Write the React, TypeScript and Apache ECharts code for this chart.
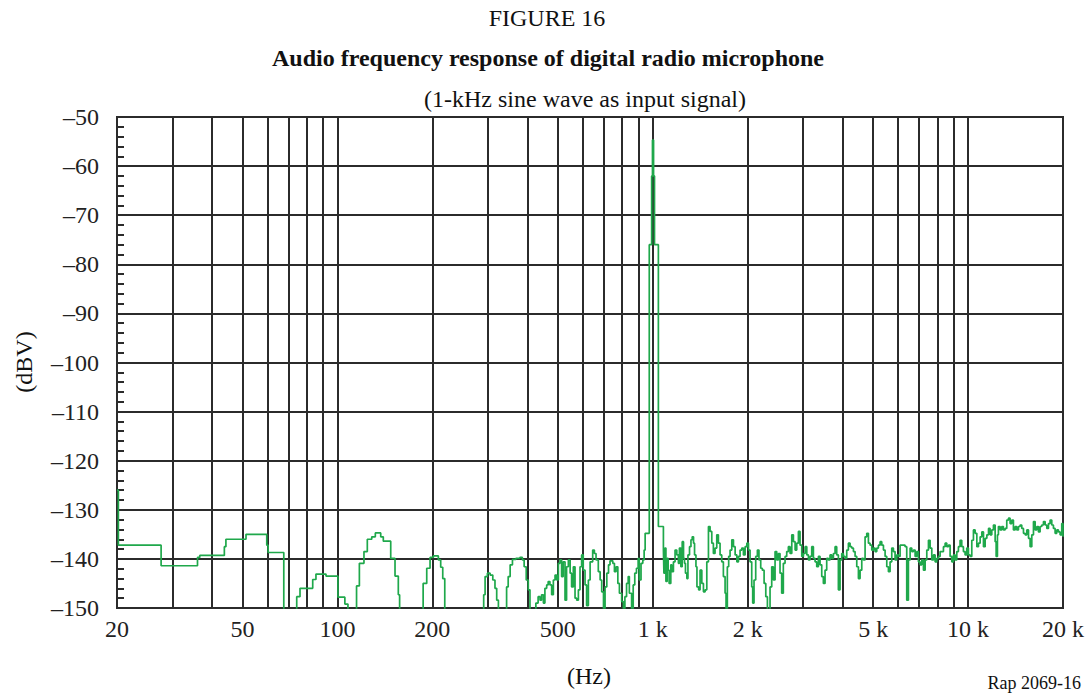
import React, { useEffect, useRef } from "react";
import * as echarts from "echarts";

// Vertical grid lines (Hz) and labelled frequencies
const gridHz = [30, 40, 60, 70, 80, 90, 300, 400, 600, 700, 800, 900, 3000, 4000, 6000, 7000, 8000, 9000];
const labelHz = [20, 50, 100, 200, 500, 1000, 2000, 5000, 10000, 20000];
const labelText = ["20", "50", "100", "200", "500", "1 k", "2 k", "5 k", "10 k", "20 k"];

// Spectrum, band A: 20 Hz – 410 Hz
const bandAHz = [20, 20.2, 27.6, 36.0, 36.6, 43.8, 44.3, 51.3, 59.7, 60.3, 67.6,
  74.3, 76.1, 83.5, 85.5, 92, 100.4, 105.6, 108,
  115, 117.4, 121.4, 124.4, 128.5, 131.9, 137.2, 139.8, 147.6, 152.3, 156, 157.5,
  187, 192, 196.7, 201.5, 209, 212.6, 215.8, 219,
  291, 294, 299, 305, 311, 316, 320, 324,
  344, 348, 353, 359, 368, 379, 386, 391, 397, 403, 408];
const bandADbv = [-126, -137.2, -141.4, -139.7, -139.3, -137.5, -136.0, -135.0, -137.2, -138.7, -156,
  -147.7, -146.0, -144.2, -143.1, -143.5, -147.8, -149.2, -156,
  -145.5, -140.9, -138.5, -136.0, -135.5, -134.7, -135.5, -136.4, -139.9, -143.5, -147.3, -156,
  -145.0, -141.9, -139.7, -139.4, -140.2, -141.7, -144.0, -156,
  -147.3, -143.6, -142.9, -143.3, -144.3, -146.0, -148.4, -156,
  -145.7, -143.6, -141.2, -140.1, -139.9, -139.7, -140.2, -141.6, -144.3, -146.3, -156];

// band B: 420 Hz – 950 Hz
const bandBHz = [426, 433, 439, 444, 450, 455, 461, 466, 472, 478, 484, 490, 496, 502, 508, 514, 520, 527, 533, 540,
  547, 553, 560, 567, 574, 581, 588, 595, 602, 610, 617, 625, 633, 645, 653, 661, 672, 681, 689, 698,
  706, 715, 724, 732, 747, 756, 765, 775, 784, 797, 807, 816, 826, 836, 843, 857, 867, 877, 888, 899,
  906, 918, 930, 939, 946];
const bandBDbv = [-149.0, -147.7, -148.4, -147.3, -149.0, -146.0, -145.3, -144.6, -145.3, -147.3,
  -144.3, -143.3, -144.3, -140.9, -140.2, -143.6, -140.6, -148.4, -141.6, -140.2,
  -142.9, -145.7, -141.6, -148.0, -148.4, -146.3, -141.6, -139.2, -142.3, -145.3,
  -149.5, -144.3, -140.6, -138.2, -138.9, -140.2, -142.6, -144.3, -146.7, -150.5,
  -145.7, -142.9, -141.2, -140.4, -140.9, -142.6, -141.6, -145.0, -147.0, -148.7,
  -151, -147.7, -145.0, -143.6, -147.0, -150.5, -145.3, -142.9, -141.9, -139.9,
  -144.3, -140.9, -140.2, -138.2, -134.8];

// 1 kHz tone
const peakHz = [975, 992, 998, 1006, 1013, 1042];
const peakDbv = [-76, -62, -54.7, -62, -76, -133.4];

// band C: 1.08 kHz – 5.2 kHz
const bandCHz = [1081, 1085, 1093, 1101, 1111, 1119, 1127, 1141, 1149, 1163, 1177, 1192, 1206, 1215, 1228,
  1240, 1252, 1261, 1270, 1283, 1293, 1308, 1322, 1334, 1347, 1357, 1371, 1381, 1398, 1413,
  1431, 1448, 1466, 1484, 1502, 1520, 1539, 1557, 1576, 1596, 1615, 1635, 1655, 1675, 1696,
  1708, 1724, 1741, 1759, 1781, 1803, 1825, 1848, 1870, 1892, 1916, 1939, 1963, 1988, 2012,
  2035, 2060, 2075, 2095, 2121, 2147, 2172, 2200, 2226, 2255, 2283, 2310,
  2324, 2355, 2384, 2413, 2443, 2473, 2502, 2533, 2564, 2595, 2628, 2660, 2692, 2726, 2760,
  2793, 2828, 2862, 2897, 2932, 2969, 3005, 3042, 3080, 3117, 3154, 3193, 3232, 3272, 3312,
  3352, 3393, 3435, 3476, 3519, 3562, 3605, 3650, 3695, 3740, 3786, 3832, 3879, 3927, 3975,
  4023, 4073, 4123, 4173, 4225, 4277, 4329, 4382, 4436, 4490, 4545, 4601, 4657, 4714, 4772,
  4830, 4889, 4949, 5010, 5071, 5134, 5196];
const bandCDbv = [-138.2, -142.9, -137.8, -144.6, -139.9, -142.3, -145.0, -141.2, -142.6, -140.6,
  -138.2, -139.2, -140.9, -137.8, -141.6, -136.5, -139.9, -140.9, -142.9, -144.0,
  -139.2, -137.5, -136.1, -135.5, -136.8, -139.2, -141.6, -145.7, -146.3, -142.3,
  -145.0, -146.7, -146.3, -140.6, -133.4, -134.4, -136.8, -138.9, -137.8, -135.1,
  -136.8, -139.2, -140.6, -143.6, -147.0, -151, -141.6, -139.5, -138.2, -136.1,
  -137.5, -139.2, -140.6, -139.5, -138.2, -137.8, -139.2, -137.5, -136.8, -138.2,
  -140.6, -145.7, -149.0, -144.3, -139.5, -138.2, -140.2, -141.9, -142.3, -145.0,
  -147.7, -150.4,
  -151, -145.7, -141.6, -144.3, -138.5, -140.2, -138.9, -142.9, -147.0, -140.9,
  -139.5, -138.5, -137.5, -138.9, -135.1, -136.5, -138.2, -136.8, -134.4, -137.2,
  -139.5, -138.9, -137.5, -139.2, -140.2, -139.5, -137.5, -139.9, -140.6, -141.6,
  -139.5, -141.2, -143.6, -145.0, -142.3, -139.9, -140.2, -139.2, -139.9, -138.9,
  -137.5, -139.2, -146.3, -140.2, -138.9, -139.5, -139.9, -138.2, -136.8, -137.5,
  -137.8, -138.5, -139.5, -141.6, -144.0, -142.3, -139.9, -140.2, -135.5, -134.8,
  -136.8, -137.2, -138.2, -137.8, -138.5, -137.8, -137.2];

// band D: 5.2 kHz – 20 kHz
const bandDHz = [5260, 5325, 5390, 5456, 5523, 5590, 5658, 5728, 5797, 5868, 5940, 6012, 6087, 6162, 6237,
  6313, 6390, 6468, 6549, 6629, 6710, 6793, 6876, 6960, 7045, 7132, 7219, 7308, 7397, 7488,
  7579, 7672, 7766, 7861, 7958, 8055, 8153, 8254, 8354, 8457, 8561, 8665, 8771, 8879, 8987,
  9098, 9210, 9320, 9433, 9549, 9665, 9784, 9904, 10025, 10150, 10275, 10400, 10530, 10660, 10790,
  10920, 11055, 11190, 11330, 11470, 11610, 11745, 11890, 12035, 12185, 12275, 12390, 12480, 12635, 12790,
  12945, 13105, 13265, 13430, 13590, 13760, 13925, 14100, 14270, 14445, 14620, 14800, 14985, 15170, 15355,
  15545, 15730, 15925, 16120, 16320, 16520, 16720, 16920, 17130, 17340, 17555, 17770, 17985, 18200, 18425,
  18650, 18880, 19110, 19345, 19580, 19820, 20000];
const bandDDbv = [-136.5, -137.2, -138.2, -139.5, -141.6, -142.6, -140.6, -137.8, -138.5, -140.2,
  -139.2, -139.5, -137.2, -137.2, -137.2, -137.5, -148.4, -140.2, -137.8, -138.5,
  -138.2, -139.5, -138.5, -140.6, -141.2, -140.2, -142.3, -140.2, -138.2, -136.2,
  -137.8, -140.2, -139.2, -140.6, -139.9, -139.5, -138.5, -138.5, -137.5, -136.8,
  -137.5, -137.2, -139.5, -140.6, -139.2, -140.2, -138.5, -137.5, -136.2, -137.5,
  -138.5, -139.2, -137.8, -139.2, -139.5, -136.2, -134.1, -134.8, -137.5, -136.8,
  -135.5, -134.5, -137.5, -135.8, -135.1, -133.8, -135.1, -134.1, -133.1, -136.5,
  -139.5, -135.1, -133.4, -134.1, -133.4, -134.1, -133.8, -132.1, -131.7, -132.8,
  -132.1, -134.1, -133.4, -134.1, -133.4, -133.1, -133.8, -134.8, -135.1, -134.1,
  -135.8, -137.5, -135.1, -132.4, -134.1, -133.4, -134.5, -133.4, -133.1, -132.4,
  -133.1, -133.8, -132.8, -132.1, -133.1, -133.8, -134.8, -134.1, -134.5, -135.1,
  -132.8, -135.5];

const FONT = "'Liberation Serif', 'Times New Roman', Times, serif";
const INK = "#2b2b2b";

function pairs(hz: number[], db: number[]) {
  return hz.map((f, i) => [f, db[i]]);
}

export default function App() {
  const ref = useRef<HTMLDivElement>(null);
  useEffect(() => {
    if (!ref.current) return;
    const chart = echarts.init(ref.current, null, { renderer: "svg" });
    const data = [
      ...pairs(bandAHz, bandADbv),
      ...pairs(bandBHz, bandBDbv),
      ...pairs(peakHz, peakDbv),
      ...pairs(bandCHz, bandCDbv),
      ...pairs(bandDHz, bandDDbv),
    ];
    const lineItems: any[] = [
      ...gridHz.map((f) => ({ xAxis: f, label: { show: false } })),
      ...labelHz.map((f, i) => ({ xAxis: f, label: { show: true, formatter: labelText[i] } })),
    ];
    chart.setOption({
      animation: false,
      grid: {
        left: 117, top: 117, width: 946, height: 491,
        show: true, borderColor: INK, borderWidth: 2, backgroundColor: "transparent",
      },
      xAxis: {
        type: "log", logBase: 10, min: 20, max: 20000,
        axisLine: { show: true, lineStyle: { color: INK, width: 2 } },
        axisTick: { show: false }, axisLabel: { show: false }, splitLine: { show: false },
        minorTick: { show: false }, minorSplitLine: { show: false },
      },
      yAxis: {
        type: "value", min: -150, max: -50, interval: 10,
        axisLine: { show: true, lineStyle: { color: INK, width: 2 } },
        axisTick: { show: true, inside: true, length: 7, lineStyle: { color: INK, width: 2 } },
        minorTick: { show: true, splitNumber: 5, length: 7, lineStyle: { color: INK, width: 2 } },
        splitLine: { show: true, lineStyle: { color: INK, width: 2 } },
        axisLabel: {
          margin: 18, fontFamily: FONT, fontSize: 24, color: "#222",
          formatter: (v: number) => (v < 0 ? "\u2013" + Math.abs(v) : String(v)),
        },
      },
      series: [
        {
          type: "line", data: [[20, -200]], symbol: "none", silent: true, z: 1,
          lineStyle: { width: 0, opacity: 0 },
          markLine: {
            silent: true, symbol: ["none", "none"], animation: false,
            lineStyle: { color: INK, width: 2, type: "solid" },
            emphasis: { disabled: true },
            label: { position: "start", distance: 9, fontFamily: FONT, fontSize: 24, color: "#222" },
            data: lineItems,
          },
        },
        {
          type: "line", data, step: "end", symbol: "none", showSymbol: false, silent: true, z: 5,
          clip: true,
          lineStyle: { color: "#1fa84b", width: 1.7 },
        },
      ],
      graphic: [
        { type: "text", x: 547, y: 18, style: { text: "FIGURE 16", fontFamily: FONT, fontSize: 24, fill: "#111", align: "center", verticalAlign: "middle" } },
        { type: "text", x: 548, y: 58, style: { text: "Audio frequency response of digital radio microphone", fontFamily: FONT, fontSize: 24, fontWeight: "bold", fill: "#111", align: "center", verticalAlign: "middle" } },
        { type: "text", x: 585, y: 99, style: { text: "(1-kHz sine wave as input signal)", fontFamily: FONT, fontSize: 24, fill: "#111", align: "center", verticalAlign: "middle" } },
        { type: "text", x: 24, y: 362, rotation: Math.PI / 2, style: { text: "(dBV)", fontFamily: FONT, fontSize: 24, fill: "#111", align: "center", verticalAlign: "middle" } },
        { type: "text", x: 589, y: 676, style: { text: "(Hz)", fontFamily: FONT, fontSize: 24, fill: "#111", align: "center", verticalAlign: "middle" } },
        { type: "text", x: 1081, y: 683, style: { text: "Rap 2069-16", fontFamily: FONT, fontSize: 18, fill: "#111", align: "right", verticalAlign: "middle" } },
      ],
    });
    return () => chart.dispose();
  }, []);
  return <div ref={ref} style={{ position: "absolute", left: 0, top: 0, width: 1090, height: 693 }} />;
}
